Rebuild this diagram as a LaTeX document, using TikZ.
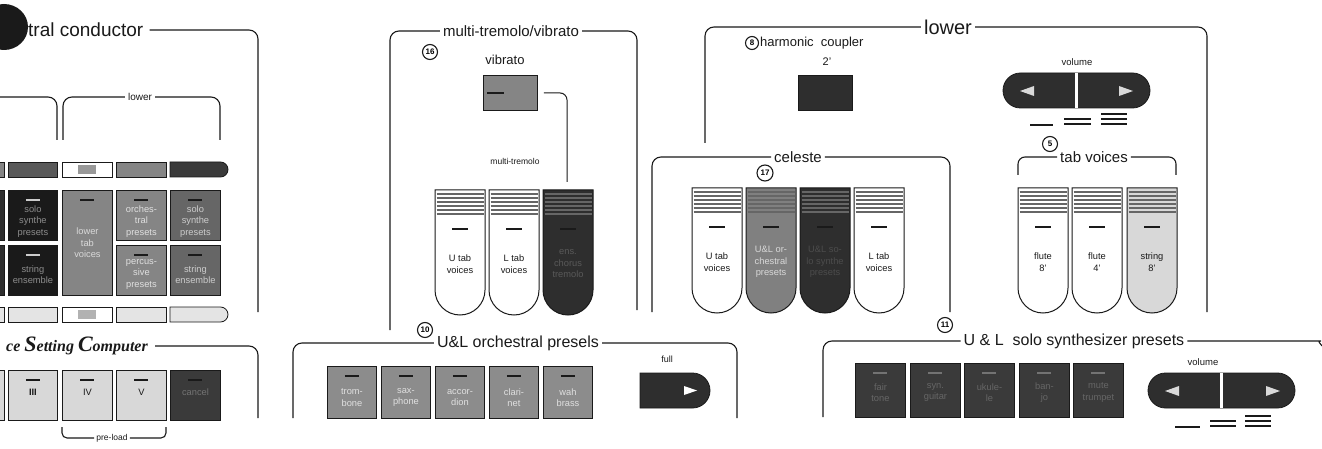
\documentclass[tikz,border=0pt]{standalone}
\usepackage{fontspec}
\setmainfont{Liberation Sans}
\newfontfamily\serifbi{Liberation Serif}
\usetikzlibrary{shapes.misc}
\newcommand{\fsz}[1]{\fontsize{#1}{#1}\selectfont}
\definecolor{ink}{HTML}{1A1A1A}
\definecolor{dk}{HTML}{2E2E2E}
\definecolor{dk2}{HTML}{3A3A3A}
\definecolor{md}{HTML}{858585}
\definecolor{mdk}{HTML}{666666}
\definecolor{lt}{HTML}{D8D8D8}
\definecolor{ltt}{HTML}{E4E4E4}
\def\dcol{ink}
\newcommand{\sqbtn}[9]{%
  \node[sqb, fill=#6, minimum width=#4pt, minimum height=#5pt] (#1) at (#2,#3) {};
  \draw[line width=2.6pt, draw=\dcol] ([xshift=-7pt,yshift=-10pt]#1.north) -- ([xshift=7pt,yshift=-10pt]#1.north);
  \node[lbl, text=#7] (#1-t) at ([yshift=#9pt]#1.center) {#8};
}
\newcommand{\tabbtn}[6]{%
  \draw[tabl, fill=#4] ({#2},{#3}) -- ({#2},{#3+100}) .. controls ({#2},{#3+113.8}) and ({#2+11.2},{#3+125}) .. ({#2+25},{#3+125}) .. controls ({#2+38.8},{#3+125}) and ({#2+50},{#3+113.8}) .. ({#2+50},{#3+100}) -- ({#2+50},{#3}) -- cycle;
  \foreach \k in {4,8,12,16,20,24} \draw[line width=1.5pt, draw=black!60] ({#2+1.5},{#3+\k}) -- ({#2+48.5},{#3+\k});
  \draw[line width=2.6pt, draw=ink] ({#2+17},{#3+39}) -- ({#2+33},{#3+39});
  \node[lbl, text=#5] (#1) at ({#2+25},{#3+74}) {#6};
}
\begin{document}
\begin{tikzpicture}[x=1pt,y=-1pt,
  frame/.style={draw=ink, line width=1.1pt, rounded corners=9pt},
  ttl/.style={font=\fsz{15}, inner sep=3pt, text=ink},
  sqb/.style={draw=ink, line width=0.9pt, anchor=north west, inner sep=0pt},
  lbl/.style={font=\fontsize{9.3}{11.5}\selectfont, align=center, inner sep=0pt},
  numc/.style={circle, draw=ink, line width=1.1pt, inner sep=0pt, minimum size=15pt, font=\bfseries\fsz{8}},
  tabl/.style={draw=ink, line width=1pt},
  bar/.style={draw=ink, line width=0.8pt, minimum height=15pt, inner sep=0pt},
  rbar/.style={bar, rounded rectangle, rounded rectangle left arc=none},
  lvl/.style={line width=1.8pt, draw=ink}]
\useasboundingbox (0,0) rectangle (1322,449);
\fill[white] (0,0) rectangle (1322,449);

% ---------------- left: orchestral conductor ----------------
\node[ttl, font=\fsz{19}, anchor=west] (cond) at (25,30) {tral conductor};
\fill[ink] (4,27) ellipse [x radius=24, y radius=23];
\draw[frame] ([xshift=3pt]cond.east) -| (258,312);
\coordinate (lp) at (57,140);
\draw[frame] (0,97) -| (lp);
\node[ttl, font=\fsz{10}] (lowL) at (140,97) {lower};
\draw[frame] (lowL.west) -| (63,140);
\draw[frame] (lowL.east) -| (220,140);

% top bars
\node[bar, fill=md, minimum width=50pt, anchor=north west] (bA1) at (-46,162) {};
\node[bar, fill=black!65, minimum width=49pt, anchor=north west] (bB1) at (8,162) {};
\node[bar, fill=white, minimum width=50pt, anchor=north west] (bC1) at (62,162) {};
\fill[black!40] (78,165) rectangle (96,174);
\node[bar, fill=md, minimum width=50pt, anchor=north west] (bD1) at (116,162) {};
\node[rbar, fill=dk2, minimum width=58pt] (bE1) at (199,169.5) {};
% big buttons
\def\dcol{ink}
\sqbtn{kA1}{-46}{190}{50}{50}{dk}{black!60}{}{-6}
\sqbtn{kA2}{-46}{245}{50}{50}{dk}{black!60}{}{-4}
\def\dcol{black!20}
\sqbtn{kB1}{8}{190}{49}{50}{ink}{black!45}{solo\\synthe\\presets}{-6}
\sqbtn{kB2}{8}{245}{49}{50}{ink}{black!45}{string\\ensemble}{-4}
\def\dcol{ink}
\sqbtn{kC}{62}{190}{50}{105}{md}{black!15}{lower\\tab\\voices}{0}
\sqbtn{kD1}{116}{190}{50}{50}{black!48}{black!12}{orches-\\tral\\presets}{-6}
\sqbtn{kD2}{116}{245}{50}{50}{black!48}{black!12}{percus-\\sive\\presets}{-4}
\sqbtn{kE1}{170}{190}{50}{50}{mdk}{black!20}{solo\\synthe\\presets}{-6}
\sqbtn{kE2}{170}{245}{50}{50}{mdk}{black!20}{string\\ensemble}{-4}
% bottom bars
\node[bar, fill=ltt, minimum width=50pt, anchor=north west] (bA2) at (-46,307) {};
\node[bar, fill=ltt, minimum width=49pt, anchor=north west] (bB2) at (8,307) {};
\node[bar, fill=white, minimum width=50pt, anchor=north west] (bC2) at (62,307) {};
\fill[black!30] (78,310) rectangle (96,319);
\node[bar, fill=ltt, minimum width=50pt, anchor=north west] (bD2) at (116,307) {};
\node[rbar, fill=ltt, minimum width=58pt] (bE2) at (199,314.5) {};

% setting computer
\node[inner sep=0pt, anchor=east, text=ink] (setc) at (148,346) {\serifbi\bfseries\itshape\fsz{16}ce {\fsz{22}S}etting {\fsz{22}C}omputer};
\draw[frame] ([xshift=7pt]setc.east) -| (258,418);
\sqbtn{sA}{-46}{370}{50}{50}{lt}{ink}{}{3}
\sqbtn{sB}{8}{370}{49}{50}{lt}{ink}{\bfseries III}{3}
\sqbtn{sC}{62}{370}{50}{50}{lt}{ink}{IV}{3}
\sqbtn{sD}{116}{370}{50}{50}{lt}{ink}{V}{3}
\sqbtn{sE}{170}{370}{50}{50}{dk2}{black!55}{cancel}{3}
\node[ttl, font=\fsz{8.5}, inner sep=2pt] (pl) at (112,438) {pre-load};
\draw[frame, rounded corners=5pt] (pl.west) -| (62,427);
\draw[frame, rounded corners=5pt] (pl.east) -| (166,427);

% ---------------- multi-tremolo/vibrato ----------------
\node[ttl, font=\fsz{15}] (mt) at (511,31) {multi-tremolo/vibrato};
\draw[frame] (mt.west) -| (390,330);
\draw[frame] (mt.east) -| (637,310);
\node[numc] (n16) at (430,52) {16};
\node[ttl, font=\fsz{13}] (vibt) at (505,60) {vibrato};
\node[sqb, fill=md, minimum width=54pt, minimum height=35pt] (vib) at (483,75) {};
\draw[line width=2.4pt, draw=ink] (487,93) -- (504,93);
\draw[frame, line width=1pt, rounded corners=7pt] ([xshift=6pt]vib.east) -| (567,182);
\node[ttl, font=\fsz{8.5}] (mtr) at (515,161) {multi-tremolo};
\tabbtn{tU}{435}{190}{white}{ink}{U tab\\voices}
\tabbtn{tL}{489}{190}{white}{ink}{L tab\\voices}
\tabbtn{tE}{543}{190}{dk}{black!65}{ens.\\chorus\\tremolo}

% ---------------- U&L orchestral presets ----------------
\node[ttl, font=\fsz{16}] (orc) at (518,343) {U\&L orchestral presels};
\node[numc] (n10) at (425,330) {10};
\draw[frame] (orc.west) -| (293,418);
\draw[frame] (orc.east) -| (737,418);
\sqbtn{o1}{327}{366}{49}{52}{black!45}{black!12}{trom-\\bone}{-5}
\sqbtn{o2}{381}{366}{49}{52}{black!45}{black!12}{sax-\\phone}{-5}
\sqbtn{o3}{435}{366}{49}{52}{black!45}{black!12}{accor-\\dion}{-5}
\sqbtn{o4}{489}{366}{49}{52}{black!45}{black!12}{clari-\\net}{-5}
\sqbtn{o5}{543}{366}{49}{52}{black!45}{black!12}{wah\\brass}{-5}
\node[ttl, font=\fsz{9}] (fullt) at (667,359) {full};
\node[draw=ink, line width=0.8pt, fill=dk, rounded rectangle, rounded rectangle left arc=none, minimum width=70pt, minimum height=35pt, inner sep=0pt] (full) at (675,390.5) {};
\fill[white] (697,390.5) -- (684,386) -- (684,395) -- cycle;

% ---------------- lower ----------------
\node[ttl, font=\fsz{20}] (low) at (948,27) {lower};
\draw[frame] (low.west) -| (705,143);
\draw[frame] (low.east) -| (1207,312);
\node[numc, minimum size=13pt] (n8) at (752,43) {8};
\node[ttl, font=\fsz{13}, anchor=west, inner sep=1pt] (harm) at (759,43) {harmonic\ \ coupler};
\node[ttl, font=\fsz{11}] (two) at (827,62) {2'};
\node[sqb, fill=dk, minimum width=54pt, minimum height=35pt] (cpl) at (798,75) {};
\node[ttl, font=\fsz{9.5}] (volt) at (1077,62) {volume};
\node[draw=ink, line width=0.8pt, fill=dk, rounded rectangle, minimum width=147pt, minimum height=35pt, inner sep=0pt] (vol) at (1076.5,90.5) {};
\draw[white, line width=2.5pt] (vol.north) -- (vol.south);
\fill[black!15] (1020,91) -- (1034,86) -- (1034,96) -- cycle;
\fill[black!15] (1133,91) -- (1119,86) -- (1119,96) -- cycle;
\draw[lvl] (1030,125) -- (1053,125);
\draw[lvl] (1064,119) -- (1091,119); \draw[lvl] (1064,124) -- (1091,124);
\draw[lvl] (1101,114) -- (1127,114); \draw[lvl] (1101,119) -- (1127,119); \draw[lvl] (1101,124) -- (1127,124);

% ---------------- celeste ----------------
\node[ttl, font=\fsz{15}] (cel) at (798,157) {celeste};
\draw[frame] (cel.west) -| (652,312);
\draw[frame] (cel.east) -| (950,312);
\node[numc, minimum size=16pt] (n17) at (765,173) {17};
\tabbtn{cU}{692}{188}{white}{ink}{U tab\\voices}
\tabbtn{cO}{746}{188}{black!50}{black!15}{U\&L or-\\chestral\\presets}
\tabbtn{cS}{800}{188}{dk}{black!70}{U\&L so-\\lo synthe\\presets}
\tabbtn{cL}{854}{188}{white}{ink}{L tab\\voices}

% ---------------- tab voices ----------------
\node[numc] (n5) at (1050,144) {5};
\node[ttl, font=\fsz{15}] (tv) at (1094,157) {tab voices};
\draw[frame, rounded corners=7pt] (tv.west) -| (1018,175);
\draw[frame, rounded corners=7pt] (tv.east) -| (1176,175);
\tabbtn{vF8}{1018}{188}{white}{ink}{flute\\8'}
\tabbtn{vF4}{1072}{188}{white}{ink}{flute\\4'}
\tabbtn{vS8}{1127}{188}{lt}{ink}{string\\8'}

% ---------------- U & L solo synthesizer presets ----------------
\node[ttl, font=\fsz{16}] (solo) at (1074,341) {U \& L\ \ solo\ synthesizer\ presets};
\node[numc] (n11) at (945,325) {11};
\draw[frame] (solo.west) -| (823,417);
\draw[frame] (solo.east) -- (1312,341) .. controls (1317,341) and (1320,343) .. (1322,346);
\def\dcol{black!55}
\sqbtn{y1}{855}{363}{50}{54}{dk2}{black!60}{fair\\tone}{-2}
\sqbtn{y2}{910}{363}{50}{54}{dk2}{black!60}{syn.\\guitar}{-2}
\sqbtn{y3}{964}{363}{50}{54}{dk2}{black!60}{ukule-\\le}{-2}
\sqbtn{y4}{1019}{363}{50}{54}{dk2}{black!60}{ban-\\jo}{-2}
\sqbtn{y5}{1073}{363}{50}{54}{dk2}{black!60}{mute\\trumpet}{-2}
\node[ttl, font=\fsz{9.5}] (volt2) at (1203,362) {volume};
\node[draw=ink, line width=0.8pt, fill=dk, rounded rectangle, minimum width=147pt, minimum height=35pt, inner sep=0pt] (vol2) at (1221.5,390.5) {};
\draw[white, line width=2.5pt] (vol2.north) -- (vol2.south);
\fill[black!15] (1165,391) -- (1179,386) -- (1179,396) -- cycle;
\fill[black!15] (1280,391) -- (1266,386) -- (1266,396) -- cycle;
\draw[lvl] (1175,427) -- (1200,427);
\draw[lvl] (1210,421) -- (1236,421); \draw[lvl] (1210,426) -- (1236,426);
\draw[lvl] (1245,416) -- (1271,416); \draw[lvl] (1245,421) -- (1271,421); \draw[lvl] (1245,426) -- (1271,426);
\end{tikzpicture}
\end{document}
